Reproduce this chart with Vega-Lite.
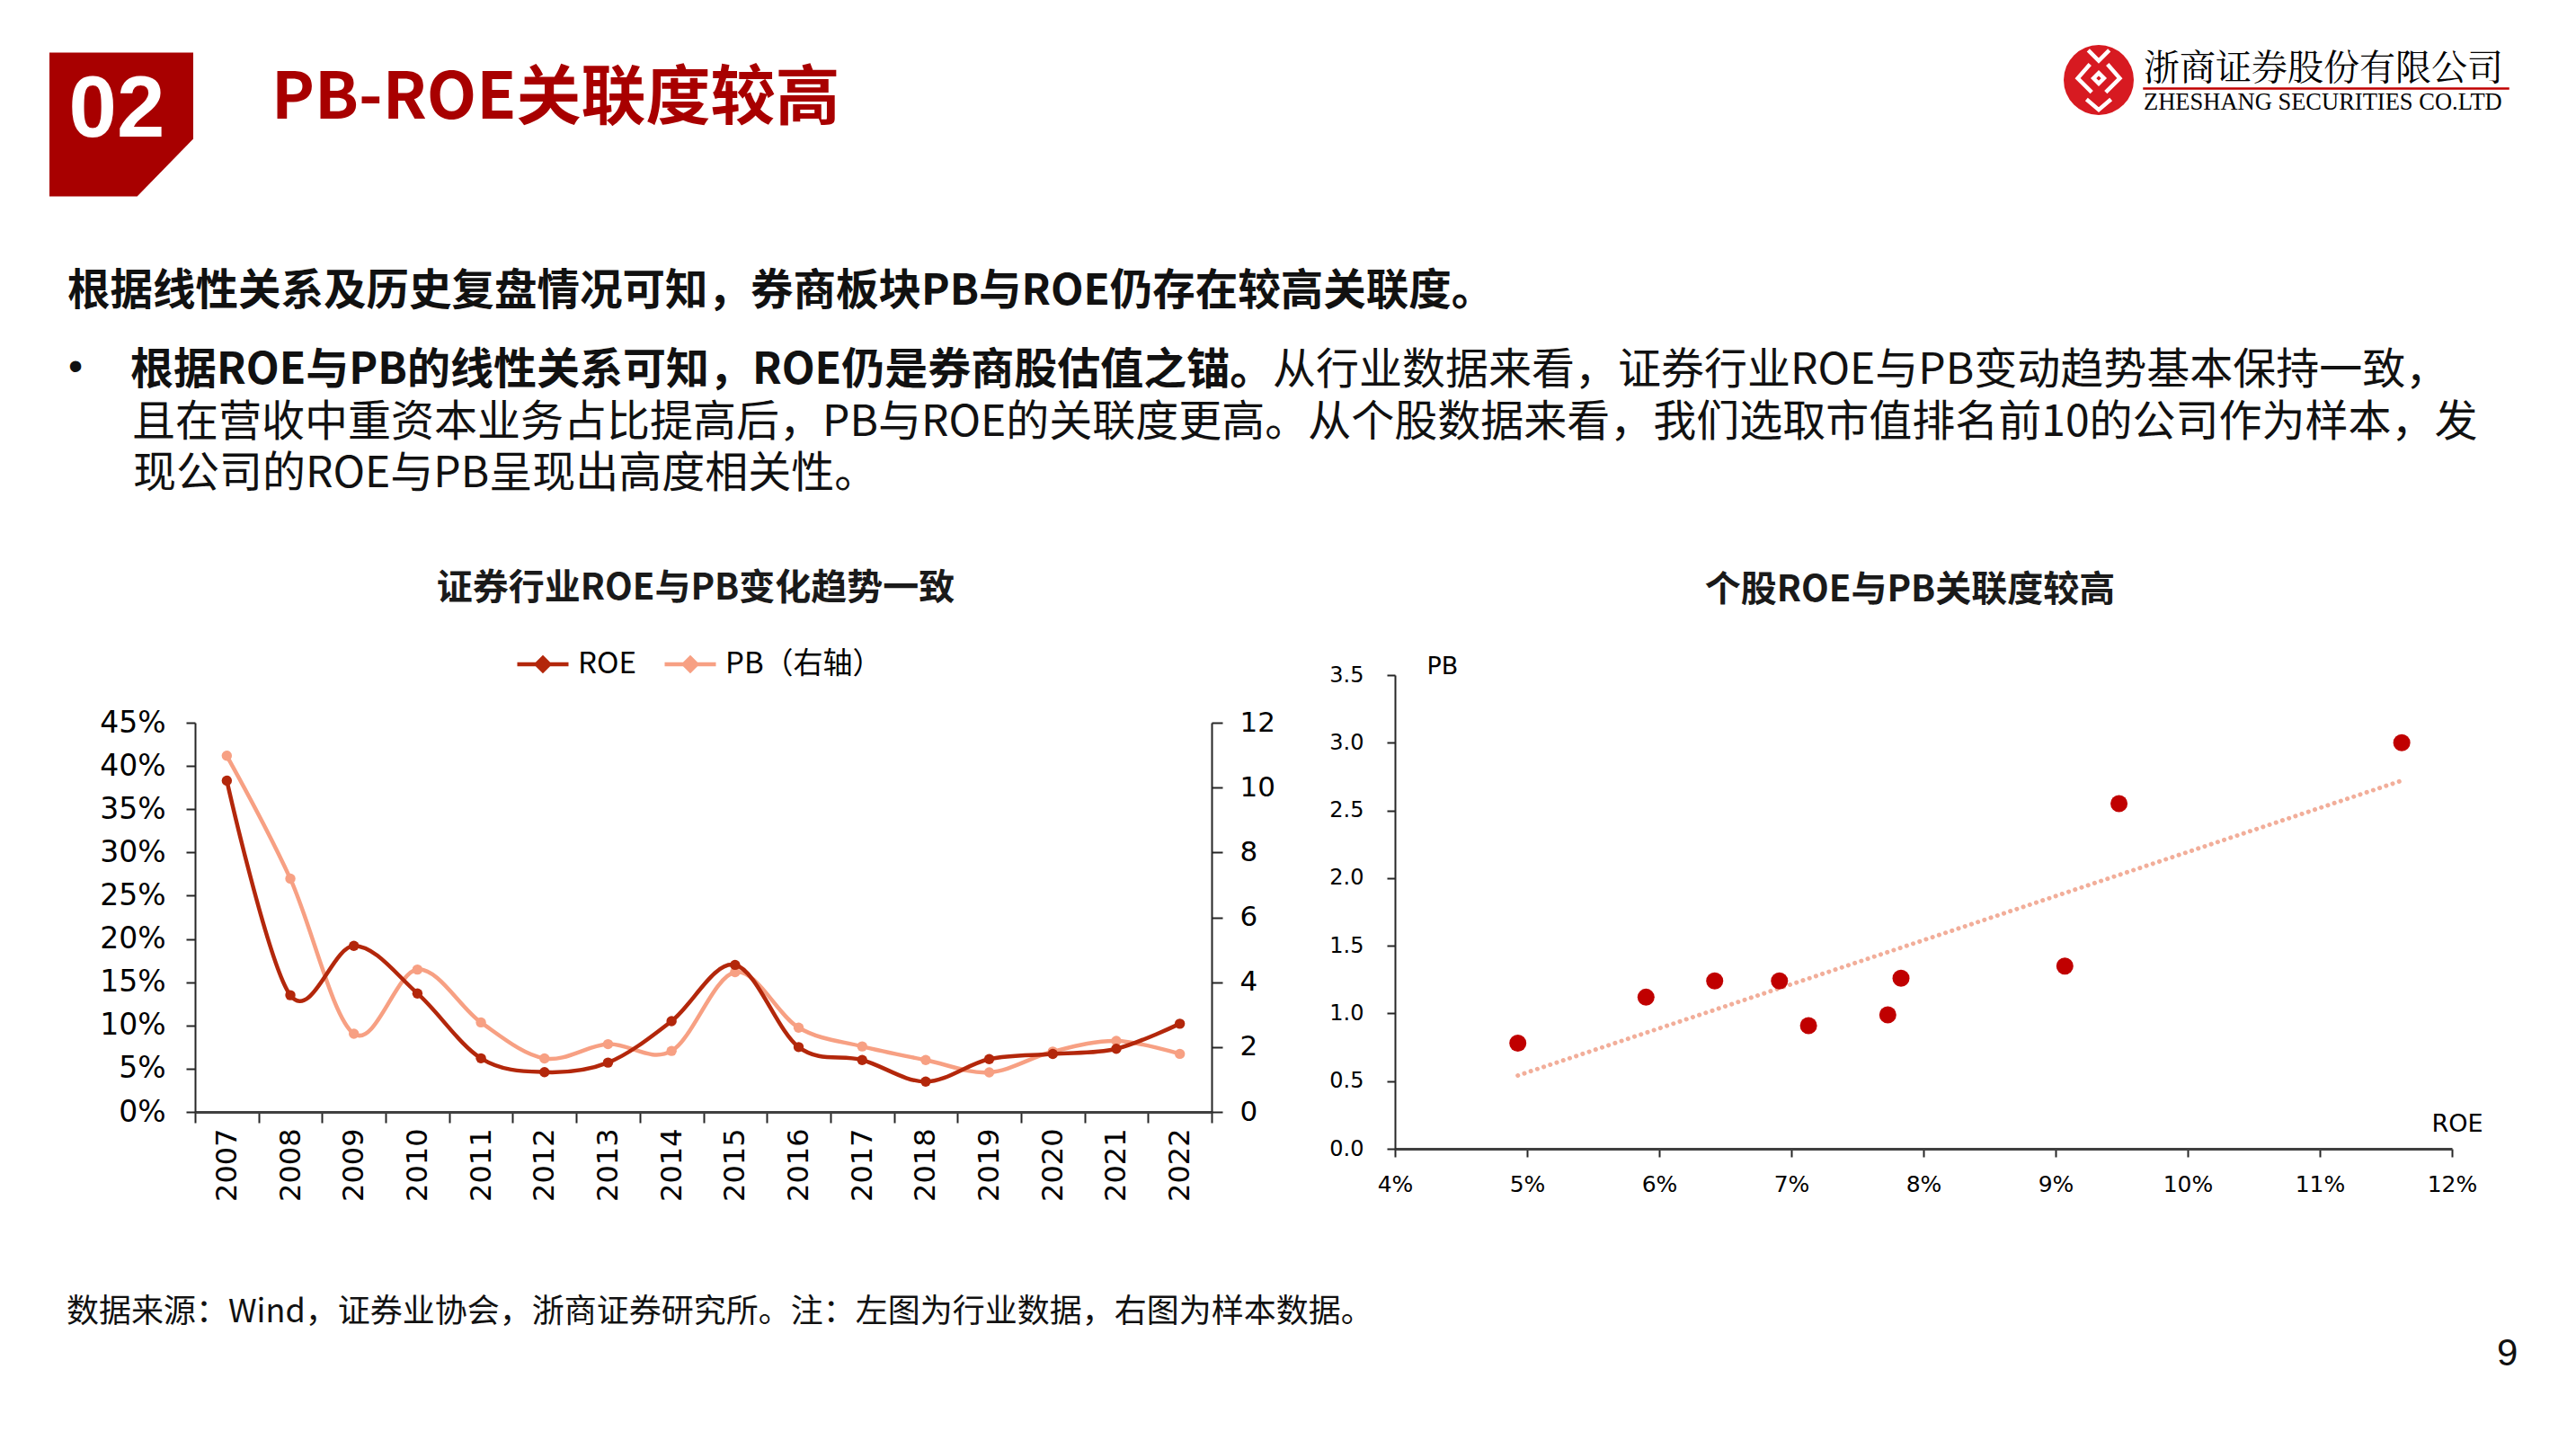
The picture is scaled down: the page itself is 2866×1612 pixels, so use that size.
{
 "$schema": "https://vega.github.io/schema/vega-lite/v6.json",
 "background": "white",
 "padding": {"left": 55, "top": 46, "right": 0, "bottom": 0},
 "bounds": "flush",
 "spacing": 350,
 "config": {
  "view": {"stroke": null},
  "font": "Noto Sans CJK SC",
  "title": {"offset": 0, "orient": "top", "frame": "group"}
 },
 "vconcat": [
  {
   "bounds": "flush", "spacing": 2081,
   "hconcat": [
    {
     "width": 160, "height": 177,
     "data": {"values": [{"label": "02"}]},
     "title": {"text": "PB-ROE关联度较高", "anchor": "start", "align": "left", "baseline": "alphabetic", "dx": 247, "dy": 158, "fontSize": 72, "fontWeight": "bold", "color": "#A80000", "font": "Noto Sans CJK SC"},
     "layer": [
      {"mark": {"type": "point", "shape": "M-1,-1L1,-1L1,0.2L0.22,1L-1,1Z", "size": 25600, "filled": true, "color": "#A80000", "opacity": 1, "strokeWidth": 0}},
      {"mark": {"type": "text", "font": "Liberation Sans", "fontSize": 96, "fontWeight": "bold", "color": "white", "dx": -5, "dy": -16, "align": "center", "baseline": "middle"}, "encoding": {"text": {"field": "label"}}}
     ]
    },
    {
     "bounds": "flush", "spacing": 11,
     "hconcat": [
      {
       "width": 78, "height": 78,
       "data": {"values": [{"k": 1}]},
       "layer": [
        {"mark": {"type": "point", "shape": "circle", "size": 6084, "filled": true, "color": "#D71A21", "opacity": 1, "strokeWidth": 0}},
        {"mark": {"type": "point", "shape": "M-0.3,-0.85L0,-0.55L0.3,-0.85M-0.25,-0.45L-0.6,-0.05L-0.2,0.35M0.25,-0.45L0.6,-0.05L0.2,0.35M-0.35,0.55L0,0.85L0.35,0.55M-0.15,-0.05L0,-0.2L0.15,-0.05L0,0.1Z", "size": 6084, "filled": false, "color": "white", "opacity": 1, "strokeWidth": 4.5}}
       ]
      },
      {
       "bounds": "flush", "spacing": 47,
       "vconcat": [
        {"width": 406, "height": 0.01, "data": {"values": []}, "mark": "point",
         "title": {"text": "ZHESHANG SECURITIES CO.LTD", "anchor": "start", "align": "left", "baseline": "alphabetic", "dx": 0, "dy": 102, "fontSize": 26.5, "fontWeight": "normal", "font": "Liberation Serif", "color": "#000000"}},
        {"width": 406, "height": 1, "data": {"values": []}, "mark": "point",
         "view": {"fill": "#C00000", "stroke": "#C00000", "strokeWidth": 1.5},
         "title": {"text": "浙商证券股份有限公司", "anchor": "start", "align": "left", "baseline": "alphabetic", "dx": 0, "dy": 35, "fontSize": 40, "fontWeight": "normal", "font": "Noto Serif CJK SC, Noto Sans CJK SC", "color": "#000000"}}
       ]
      }
     ]
    }
   ]
  },
  {
   "bounds": "flush", "spacing": 0,
   "hconcat": [
    {"width": 0.01, "height": 0.01, "data": {"values": []}, "mark": "point",
     "title": {"text": "根据线性关系及历史复盘情况可知，券商板块PB与ROE仍存在较高关联度。", "anchor": "start", "align": "left", "baseline": "alphabetic", "dx": 20, "dy": -10, "fontSize": 47.5, "fontWeight": "bold", "color": "#111111"}},
    {"width": 0.01, "height": 0.01, "data": {"values": []}, "mark": "point",
     "title": {"text": "•", "anchor": "start", "align": "left", "baseline": "alphabetic", "dx": 20, "dy": 73, "fontSize": 46, "fontWeight": "normal", "font": "Liberation Sans", "color": "#111111"}},
    {"width": 0.01, "height": 0.01, "data": {"values": []}, "mark": "point",
     "title": {"text": "根据ROE与PB的线性关系可知，ROE仍是券商股估值之锚。", "anchor": "start", "align": "left", "baseline": "alphabetic", "dx": 88, "dy": 78.5, "fontSize": 48, "fontWeight": "bold", "color": "#111111"}},
    {"width": 0.01, "height": 0.01, "data": {"values": []}, "mark": "point",
     "title": {"text": "从行业数据来看，证券行业ROE与PB变动趋势基本保持一致，", "anchor": "start", "align": "left", "baseline": "alphabetic", "dx": 1358, "dy": 78.5, "fontSize": 48, "fontWeight": "normal", "color": "#111111"}},
    {"width": 0.01, "height": 0.01, "data": {"values": []}, "mark": "point",
     "title": {"text": "且在营收中重资本业务占比提高后，PB与ROE的关联度更高。从个股数据来看，我们选取市值排名前10的公司作为样本，发", "anchor": "start", "align": "left", "baseline": "alphabetic", "dx": 88, "dy": 137, "fontSize": 48, "fontWeight": "normal", "color": "#111111"}},
    {"width": 0.01, "height": 0.01, "data": {"values": []}, "mark": "point",
     "title": {"text": "现公司的ROE与PB呈现出高度相关性。", "anchor": "start", "align": "left", "baseline": "alphabetic", "dx": 88, "dy": 193.5, "fontSize": 48, "fontWeight": "normal", "color": "#111111"}}
   ]
  },
  {
   "bounds": "flush", "spacing": 1497,
   "hconcat": [
    {
     "bounds": "flush", "spacing": 161,
     "hconcat": [
      {"width": 0.01, "height": 0.01, "data": {"values": []}, "mark": "point"},
      {
       "bounds": "flush", "spacing": 53,
       "vconcat": [
        {"width": 1131, "height": 0.01, "data": {"values": []}, "mark": "point",
         "title": {"text": "证券行业ROE与PB变化趋势一致", "anchor": "middle", "align": "center", "baseline": "alphabetic", "dx": -8.5, "dy": -39, "fontSize": 40, "fontWeight": "bold", "color": "#1a1a1a"}},
        {
         "width": 1131, "height": 433,
         "data": {"values": [
          {"year": "2007", "ROE": 0.383, "PB": 10.98},
          {"year": "2008", "ROE": 0.135, "PB": 7.19},
          {"year": "2009", "ROE": 0.192, "PB": 2.41},
          {"year": "2010", "ROE": 0.137, "PB": 4.39},
          {"year": "2011", "ROE": 0.062, "PB": 2.76},
          {"year": "2012", "ROE": 0.046, "PB": 1.65},
          {"year": "2013", "ROE": 0.057, "PB": 2.09},
          {"year": "2014", "ROE": 0.105, "PB": 1.88},
          {"year": "2015", "ROE": 0.170, "PB": 4.31},
          {"year": "2016", "ROE": 0.075, "PB": 2.60},
          {"year": "2017", "ROE": 0.060, "PB": 2.02},
          {"year": "2018", "ROE": 0.035, "PB": 1.60},
          {"year": "2019", "ROE": 0.061, "PB": 1.22},
          {"year": "2020", "ROE": 0.067, "PB": 1.86},
          {"year": "2021", "ROE": 0.073, "PB": 2.19},
          {"year": "2022", "ROE": 0.102, "PB": 1.79}
         ]},
         "encoding": {
          "x": {"field": "year", "type": "ordinal", "bandPosition": 0.5,
                "scale": {"type": "band", "paddingInner": 0, "paddingOuter": 0},
                "axis": {"title": null, "labelAngle": -90, "labelAlign": "right", "labelBaseline": "middle", "labelPadding": 6, "labelFont": "DejaVu Sans", "labelFontSize": 32, "labelColor": "#000000", "tickSize": 12, "tickWidth": 2, "tickColor": "#262626", "domainColor": "#404040", "domainWidth": 3, "tickBand": "extent", "labelOverlap": false}}
         },
         "layer": [
          {
           "mark": {"type": "line", "interpolate": "cardinal", "strokeWidth": 4.5, "point": {"filled": true, "size": 130, "opacity": 1}},
           "encoding": {
            "y": {"field": "PB", "type": "quantitative", "scale": {"domain": [0, 12], "nice": false},
                  "axis": {"orient": "right", "values": [0, 2, 4, 6, 8, 10, 12], "format": "d", "title": null, "grid": false, "tickSize": 12, "tickWidth": 2, "tickColor": "#262626", "domainColor": "#262626", "domainWidth": 2, "labelPadding": 19, "labelFont": "DejaVu Sans", "labelFontSize": 31, "labelColor": "#000000", "labelOverlap": false}},
            "color": {"datum": "PB（右轴）", "type": "nominal"}
           }
          },
          {
           "mark": {"type": "line", "interpolate": "cardinal", "strokeWidth": 4.5, "point": {"filled": true, "size": 130, "opacity": 1}},
           "encoding": {
            "y": {"field": "ROE", "type": "quantitative", "scale": {"domain": [0, 0.45], "nice": false},
                  "axis": {"orient": "left", "values": [0, 0.05, 0.1, 0.15, 0.2, 0.25, 0.3, 0.35, 0.4, 0.45], "format": ".0%", "title": null, "grid": false, "tickSize": 10, "tickWidth": 2, "tickColor": "#262626", "domainColor": "#262626", "domainWidth": 2, "labelPadding": 23, "labelFont": "DejaVu Sans", "labelFontSize": 33, "labelColor": "#000000", "labelOverlap": false}},
            "color": {"datum": "ROE", "type": "nominal",
                      "scale": {"domain": ["ROE", "PB（右轴）"], "range": ["#B3270B", "#F7A083"]},
                      "legend": {"orient": "none", "legendX": 518, "legendY": 658, "direction": "horizontal", "title": null, "labelFontSize": 33, "labelFont": "Noto Sans CJK SC", "labelColor": "#000000", "labelLimit": 500, "symbolType": "M-1,0L1,0M0,-0.25L0.25,0L0,0.25L-0.25,0Z", "symbolSize": 3249, "symbolStrokeWidth": 4.5, "labelOffset": 8, "columnPadding": 22, "padding": 0}}
           }
          }
         ],
         "resolve": {"scale": {"y": "independent"}}
        }
       ]
      }
     ]
    },
    {
     "bounds": "flush", "spacing": 0,
     "vconcat": [
      {"width": 1176, "height": 0.01, "data": {"values": []}, "mark": "point",
       "title": {"text": "个股ROE与PB关联度较高", "anchor": "middle", "align": "center", "baseline": "alphabetic", "dx": -15, "dy": -37, "fontSize": 40, "fontWeight": "bold", "color": "#1a1a1a"}},
      {
       "width": 1176, "height": 527,
       "data": {"values": [
        {"ROE": 0.0493, "PB": 0.78},
        {"ROE": 0.0590, "PB": 1.12},
        {"ROE": 0.0642, "PB": 1.24},
        {"ROE": 0.0691, "PB": 1.24},
        {"ROE": 0.0713, "PB": 0.91},
        {"ROE": 0.0773, "PB": 0.99},
        {"ROE": 0.0783, "PB": 1.26},
        {"ROE": 0.0907, "PB": 1.35},
        {"ROE": 0.0948, "PB": 2.55},
        {"ROE": 0.1162, "PB": 3.00}
       ]},
       "encoding": {
        "x": {"field": "ROE", "type": "quantitative", "scale": {"domain": [0.04, 0.12], "nice": false, "zero": false},
              "axis": {"values": [0.04, 0.05, 0.06, 0.07, 0.08, 0.09, 0.1, 0.11, 0.12], "format": ".0%", "grid": false, "tickSize": 9, "tickWidth": 2, "tickColor": "#262626", "domainColor": "#404040", "domainWidth": 3, "labelPadding": 18, "labelFont": "DejaVu Sans", "labelFontSize": 25, "labelColor": "#000000", "labelFlush": false, "labelOverlap": false,
                       "title": "ROE", "titleX": 1210, "titleY": -20, "titleAlign": "right", "titleBaseline": "alphabetic", "titleFont": "DejaVu Sans", "titleFontSize": 27, "titleFontWeight": "normal", "titleColor": "#000000"}},
        "y": {"field": "PB", "type": "quantitative", "scale": {"domain": [0, 3.5], "nice": false},
              "axis": {"values": [0, 0.5, 1, 1.5, 2, 2.5, 3, 3.5], "format": ".1f", "grid": false, "tickSize": 9, "tickWidth": 2, "tickColor": "#262626", "domainColor": "#262626", "domainWidth": 2, "labelPadding": 26, "labelFont": "DejaVu Sans", "labelFontSize": 24, "labelColor": "#000000", "labelOverlap": false,
                       "title": "PB", "titleAngle": 0, "titleX": 35, "titleY": -2, "titleAlign": "left", "titleBaseline": "alphabetic", "titleFont": "DejaVu Sans", "titleFontSize": 27, "titleFontWeight": "normal", "titleColor": "#000000"}}
       },
       "layer": [
        {"transform": [{"regression": "PB", "on": "ROE"}],
         "mark": {"type": "line", "color": "#F2AE9A", "strokeWidth": 5, "strokeDash": [0.1, 7.5], "strokeCap": "round"}},
        {"mark": {"type": "point", "filled": true, "color": "#C00000", "opacity": 1, "size": 361}}
       ]
      }
     ]
    }
   ]
  },
  {
   "bounds": "flush", "spacing": 0,
   "hconcat": [
    {"width": 0.01, "height": 0.01, "data": {"values": []}, "mark": "point",
     "title": {"text": "数据来源：Wind，证券业协会，浙商证券研究所。注：左图为行业数据，右图为样本数据。", "anchor": "start", "align": "left", "baseline": "alphabetic", "dx": 19, "dy": 410.5, "fontSize": 36, "fontWeight": "normal", "color": "#111111"}},
    {"width": 0.01, "height": 0.01, "data": {"values": []}, "mark": "point",
     "title": {"text": "9", "anchor": "start", "align": "left", "baseline": "alphabetic", "dx": 2722, "dy": 465, "fontSize": 42, "fontWeight": "normal", "font": "Liberation Sans", "color": "#111111"}}
   ]
  }
 ]
}
